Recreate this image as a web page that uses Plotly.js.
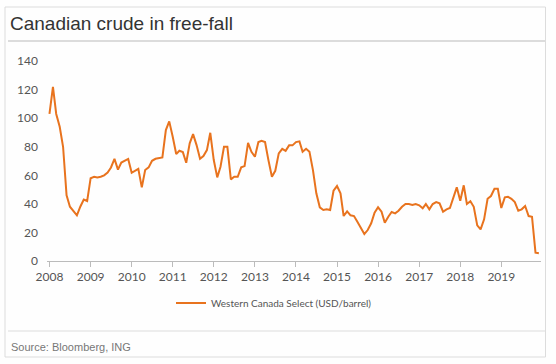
<!DOCTYPE html>
<html><head><meta charset="utf-8">
<script src="https://cdn.plot.ly/plotly-3.0.1.min.js"></script>
<style>html,body{margin:0;padding:0;background:#fff}#chart{width:556px;height:364px}</style>
</head><body><div id="chart"></div>
<script>
const chartTitle = 'Canadian crude in free-fall';
const seriesName = 'Western Canada Select (USD/barrel)';
const sourceText = 'Source: Bloomberg, ING';
const years = [2008, 2009, 2010, 2011, 2012, 2013, 2014, 2015, 2016, 2017, 2018, 2019];
const yTicks = [0, 20, 40, 60, 80, 100, 120, 140];

// Monthly values (USD/barrel), Jan..Dec for each year
const wcs2008 = [103, 122, 103, 94, 80, 46, 38, 35, 32, 38, 43, 42];
const wcs2009 = [58, 59, 58.5, 59, 60, 62, 65.5, 71.5, 64, 69, 70, 71.5];
const wcs2010 = [61.8, 63.5, 64.5, 51.6, 63.7, 65.6, 70.2, 71.6, 72, 72.6, 91.7, 97.8];
const wcs2011 = [87, 74.9, 77.2, 76.3, 68.8, 82.4, 88.9, 81.2, 71.6, 73.5, 77.7, 89.8];
const wcs2012 = [70.7, 58.6, 66, 80, 80, 57.2, 59, 59, 65.6, 66.5, 82.8, 76.5];
const wcs2013 = [73, 83.3, 84.2, 83.3, 70.7, 59, 63.2, 75.4, 78.6, 77.2, 81, 81];
const wcs2014 = [83.3, 83.8, 76.5, 78.6, 76.5, 63.7, 47.4, 37.6, 35.7, 36.2, 35.7, 49.2];
const wcs2015 = [52.5, 47.4, 31.5, 34.8, 32, 31.5, 27.5, 23.3, 18.9, 21.7, 26.4, 33.8];
const wcs2016 = [37.6, 34.5, 26.8, 31, 34.3, 33.4, 35.2, 38, 39.9, 39.9, 39.2, 39.9];
const wcs2017 = [39, 36.9, 39.9, 36.2, 39.9, 41.3, 40.4, 34.5, 36.2, 37.1, 44.6, 51.6];
const wcs2018 = [42.2, 53, 39.9, 41.8, 38, 25, 22.2, 29.2, 43.6, 45.5, 50.6, 50.6];
const wcs2019 = [37.1, 44.6, 45, 43.6, 41.3, 35.2, 36.2, 38.5, 31.5, 31, 5.8, 5.4];

const byYear = [wcs2008, wcs2009, wcs2010, wcs2011, wcs2012, wcs2013, wcs2014, wcs2015, wcs2016, wcs2017, wcs2018, wcs2019];
const xs = [], ys = [];
years.forEach((yr, i) => byYear[i].forEach((v, m) => {
  xs.push(yr + '-' + String(m + 1).padStart(2, '0') + '-01');
  ys.push(v);
}));

const W = 556, H = 364;
const M = {l: 47, r: 15, t: 54, b: 103};
const pw = W - M.l - M.r, ph = H - M.t - M.b;
const px = p => (p - M.l) / pw;
const py = p => (H - M.b - p) / ph;

const frameCol = '#dcdcdc';
const tickFont = {family: 'Lato, sans-serif', size: 12, color: '#555'};

const data = [{
  type: 'scatter', mode: 'lines', x: xs, y: ys, name: seriesName,
  line: {color: '#E8731E', width: 2}, showlegend: true
}];

const layout = {
  width: W, height: H, margin: M,
  paper_bgcolor: '#fefefe', plot_bgcolor: '#fefefe',
  showlegend: true,
  title: {text: chartTitle, x: 10 / W, xref: 'container', xanchor: 'left',
          y: 1 - 23 / H, yref: 'container', yanchor: 'middle',
          font: {family: 'Liberation Sans, Arial, sans-serif', size: 19, color: '#333'}},
  xaxis: {type: 'date', range: ['2007-12-10', '2019-12-20'],
          tickvals: years.map(y => y + '-01-01'), ticktext: years.map(String),
          ticks: 'outside', ticklen: 5, tickcolor: '#bbb', showline: true, linecolor: '#bbb',
          showgrid: false, zeroline: false, tickfont: tickFont},
  yaxis: {range: [0, 145], tickvals: yTicks, ticktext: yTicks.map(String),
          showgrid: false, showline: false, zeroline: false, ticks: '',
          ticklabelstandoff: 8, tickfont: tickFont},
  legend: {orientation: 'h', x: px(171), xanchor: 'left', y: py(303), yanchor: 'middle',
           font: {family: 'Lato, sans-serif', size: 10, color: '#555'}, bgcolor: 'rgba(0,0,0,0)'},
  shapes: [
    {type: 'rect', xref: 'paper', yref: 'paper', x0: px(5), x1: px(545.5), y0: py(357), y1: py(7),
     line: {color: frameCol, width: 1}},
    {type: 'line', xref: 'paper', yref: 'paper', x0: px(8), x1: px(545.5), y0: py(41), y1: py(41),
     line: {color: frameCol, width: 2}},
    {type: 'line', xref: 'paper', yref: 'paper', x0: px(8), x1: px(545.5), y0: py(331), y1: py(331),
     line: {color: frameCol, width: 1}}
  ],
  annotations: [
    {text: sourceText, xref: 'paper', yref: 'paper', x: px(9), xanchor: 'left', y: py(347), yanchor: 'middle',
     showarrow: false, font: {family: 'Liberation Sans, Arial, sans-serif', size: 11, color: '#777'}}
  ]
};

Plotly.newPlot('chart', data, layout, {staticPlot: true, displayModeBar: false});
</script></body></html>
